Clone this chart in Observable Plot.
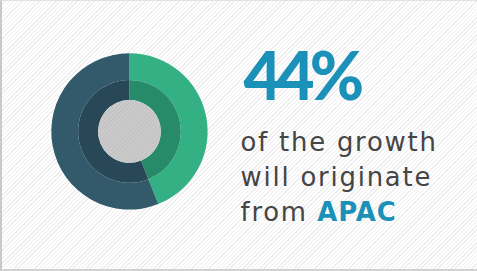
<!DOCTYPE html>
<html>
<head>
<meta charset="utf-8">
<script src="https://cdn.jsdelivr.net/npm/d3@7"></script>
<script src="https://cdn.jsdelivr.net/npm/@observablehq/plot@0.6"></script>
<style>
  html, body { margin: 0; padding: 0; }
  body { width: 477px; height: 271px; overflow: hidden; background: #fff; }
  #chart {
    position: relative; width: 477px; height: 271px; box-sizing: border-box;
    border-left: 2px solid #c9c9c9; border-top: 1px solid #e2e2e2; border-bottom: 2px solid #d2d2d2;
    background: repeating-linear-gradient(135deg, #ffffff 0px, #ffffff 2px, #ededed 2px, #ededed 3px);
  }
  #chart svg { position: absolute; left: -2px; top: -1px; background: transparent; }
</style>
</head>
<body>
<div id="chart"></div>
<script>
// Data
const regions = ["APAC", "Rest of world"];
const shares = [44, 56];
const outerColors = ["#34b085", "#335a6b"];
const innerColors = ["#278b69", "#284857"];
const headline = "44%";
const lines = ["of the growth", "will originate", "from"];
const highlight = "APAC";

const slices = regions.map((r, i) => ({region: r, share: shares[i], outer: outerColors[i], inner: innerColors[i]}));

const W = 477, H = 271;
const cx = 130, cy = 132;
const rOuter = 78.5, rMid = 51.6, rInner = 31.5;

function donut(data) {
  return (index, scales, values, dimensions, context) => {
    const svg = d3.create("svg:g");
    const X = scales.x(cx), Y = scales.y(cy);
    const pie = d3.pie().value(d => d.share).sort(null);
    const arcs = pie(data);
    const g = svg.append("g").attr("transform", `translate(${X},${Y})`);
    g.selectAll("path.outer").data(arcs).join("path")
      .attr("d", d3.arc().innerRadius(rMid).outerRadius(rOuter))
      .attr("fill", d => d.data.outer);
    g.selectAll("path.inner").data(arcs).join("path")
      .attr("d", d3.arc().innerRadius(rInner).outerRadius(rMid))
      .attr("fill", d => d.data.inner);
    const defs = svg.append("defs");
    const pat = defs.append("pattern").attr("id", "hatchc").attr("patternUnits", "userSpaceOnUse")
      .attr("width", 3).attr("height", 3).attr("patternTransform", "rotate(45)");
    pat.append("rect").attr("width", 3).attr("height", 3).attr("fill", "#cbcbcb");
    pat.append("rect").attr("width", 1).attr("height", 3).attr("fill", "#c0c0c0");
    g.append("circle").attr("r", rInner).attr("fill", "url(#hatchc)");
    return svg.node();
  };
}

const textRows = [
  {t: lines[0], x: 241, y: 146},
  {t: lines[1], x: 241, y: 181},
  {t: lines[2], x: 241, y: 216}
];

const plot = Plot.plot({
  width: W, height: H,
  margin: 0,
  x: {domain: [0, W], range: [0, W], axis: null},
  y: {domain: [0, H], range: [0, H], axis: null},
  style: {background: "transparent"},
  marks: [
    donut(slices),
    Plot.text([headline], {x: 244, y: 100, text: d => d, textAnchor: "start", lineAnchor: "bottom",
      fill: "#1b91b9", fontSize: 66, fontWeight: "bold", fontFamily: "Lato"}),
    Plot.text(textRows, {x: "x", y: "y", text: "t", textAnchor: "start", lineAnchor: "bottom",
      fill: "#454545", fontSize: 26, fontFamily: "DejaVu Sans", dy: 5}),
    Plot.text([highlight], {x: 318, y: 216, text: d => d, textAnchor: "start", lineAnchor: "bottom",
      fill: "#1b91b9", fontSize: 26, fontWeight: "bold", fontFamily: "DejaVu Sans", dy: 5})
  ]
});
// letter spacing tweaks (Plot.text has no letterSpacing option)
const textGroups = plot.querySelectorAll('g[aria-label="text"]');
const spacing = [-5, 1.8, 1];
textGroups.forEach((g, i) => g.setAttribute("letter-spacing", spacing[i]));
if (textGroups[0]) textGroups[0].setAttribute("font-weight", "900");
document.getElementById("chart").appendChild(plot);
</script>
</body>
</html>
